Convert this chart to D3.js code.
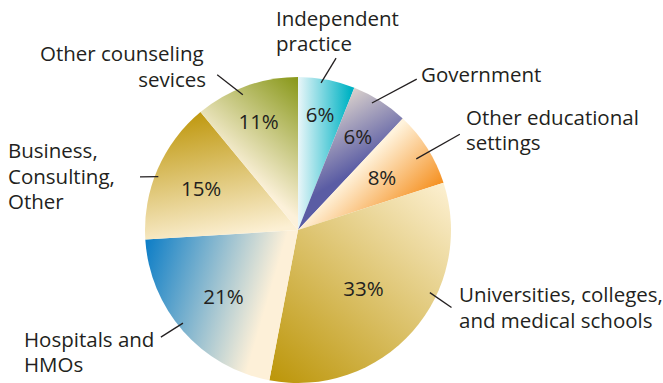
<html>
<head>
<script src="https://d3js.org/d3.v7.min.js"></script>
<style>
  body { margin: 0; background: #fff; }
  text { font-family: "Open Sans", "Noto Sans", sans-serif; fill: #231f20; }
</style>
</head>
<body>
<script>

// data, clockwise from 12 o'clock
let categories = ["Independent practice", "Government", "Other educational settings",
  "Universities, colleges, and medical schools", "Hospitals and HMOs",
  "Business, Consulting, Other", "Other counseling sevices"];
let percents = [6, 6, 8, 33, 21, 15, 11];
let valueLabels = ["6%", "6%", "8%", "33%", "21%", "15%", "11%"];

// how the names are broken over lines on the page
let nameLines = [
  ["Independent", "practice"],
  ["Government"],
  ["Other educational", "settings"],
  ["Universities, colleges,", "and medical schools"],
  ["Hospitals and", "HMOs"],
  ["Business,", "Consulting,", "Other"],
  ["Other counseling", "sevices"]
];

// --- styles / layout ---
let W = 663, H = 383;
let cx = 298, cy = 230, R = 153;
let fontSize = 20.5;

// gradient: [from colour, to colour, x1, y1, x2, y2] (in units of R, from centre)
let grads = [
  ["#e9f6f9", "#00b3c4", 0.0, -0.5, 0.34, -0.5],
  ["#f3e8d4", "#5a5ca4", 0.27, -0.98, 0.56, -0.5],
  ["#fff3dc", "#f58e1c", 0.62, -0.64, 0.95, -0.3],
  ["#fcefcf", "#bd970c", 0.95, -0.3, -0.15, 0.98],
  ["#0a7cc6", "#fdf0d8", -1.0, 0.05, -0.15, 0.3],
  ["#bf980e", "#fcf0d4", -0.6, -0.78, -0.45, 0.05],
  ["#fcf1da", "#8a991c", -0.45, -0.45, 0.0, -0.98]
];
// where the % label sits, as a fraction of R
let labelR = [0.77, 0.73, 0.65, 0.57, 0.65, 0.69, 0.76];
// leader lines: [start angle, start r, end angle, end r] (degrees clockwise from up, px)
let leaders = [
  [8.9, 149, 12.5, 176],
  [30.2, 147, 38.2, 192],
  [59, 138, 59.4, 188],
  [115.4, 146, 116.8, 172],
  [231, 148, 232, 174],
  [290.9, 149.5, 288.6, 166.7],
  [337.8, 146, 332.5, 175]
];
// text blocks: each line [x, baseline, anchor]
let textPos = [
  [[276, 26, "start"], [276, 51, "start"]],
  [[421, 82, "start"]],
  [[466, 125, "start"], [466, 150, "start"]],
  [[459, 302, "start"], [459, 328, "start"]],
  [[24, 347, "start"], [24, 372, "start"]],
  [[8, 158, "start"], [8, 184, "start"], [8, 209, "start"]],
  [[40, 61, "start"], [206, 87, "end"]]
];

let svg = d3.select("body").append("svg")
  .attr("width", W)
  .attr("height", H);

svg.append("rect").attr("width", W).attr("height", H).attr("fill", "#fff");

let defs = svg.append("defs");
grads.forEach((g, i) => {
  let lg = defs.append("linearGradient")
    .attr("id", "g" + i)
    .attr("gradientUnits", "userSpaceOnUse")
    .attr("x1", g[2] * R).attr("y1", g[3] * R)
    .attr("x2", g[4] * R).attr("y2", g[5] * R);
  lg.append("stop").attr("offset", "0").attr("stop-color", g[0]);
  lg.append("stop").attr("offset", "1").attr("stop-color", g[1]);
});

let pie = d3.pie().sort(null).value(d => d);
let arcs = pie(percents);
let arc = d3.arc().innerRadius(0).outerRadius(R);

// everything in the group is relative to the pie centre
let g = svg.append("g").attr("transform", `translate(${cx},${cy})`);

g.selectAll("path.slice")
  .data(arcs)
  .enter()
  .append("path")
  .attr("class", "slice")
  .attr("d", arc)
  .attr("fill", (d, i) => `url(#g${i})`);

let pt = (angDeg, r) => {
  let a = angDeg * Math.PI / 180;
  return [r * Math.sin(a), -r * Math.cos(a)];
};

// % labels
let labelArc = (d, i) => d3.arc().innerRadius(labelR[i] * R).outerRadius(labelR[i] * R).centroid(d);

g.selectAll("text.pct")
  .data(arcs)
  .enter()
  .append("text")
  .attr("class", "pct")
  .attr("text-anchor", "middle")
  .attr("dominant-baseline", "central")
  .attr("font-size", fontSize + "px")
  .attr("x", (d, i) => labelArc(d, i)[0])
  .attr("y", (d, i) => labelArc(d, i)[1])
  .text((d, i) => valueLabels[i]);

// leader lines
g.selectAll("line.lead")
  .data(leaders)
  .enter()
  .append("line")
  .attr("class", "lead")
  .attr("x1", d => pt(d[0], d[1])[0])
  .attr("y1", d => pt(d[0], d[1])[1])
  .attr("x2", d => pt(d[2], d[3])[0])
  .attr("y2", d => pt(d[2], d[3])[1])
  .attr("stroke", "#231f20")
  .attr("stroke-width", 1.3);

// category names
nameLines.forEach((lines, i) => {
  lines.forEach((t, j) => {
    let p = textPos[i][j];
    svg.append("text")
      .attr("x", p[0])
      .attr("y", p[1])
      .attr("text-anchor", p[2])
      .attr("font-size", fontSize + "px")
      .text(t);
  });
});

</script>
</body>
</html>
